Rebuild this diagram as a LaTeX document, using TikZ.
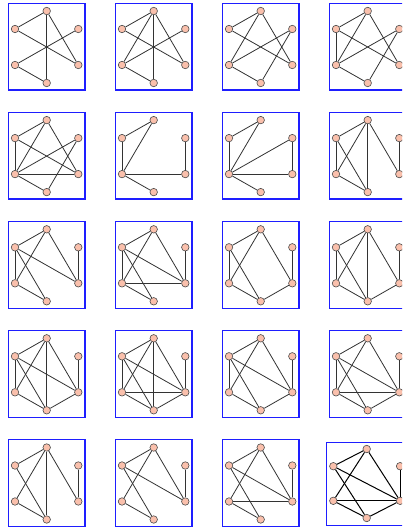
\documentclass[tikz,border=0pt]{standalone}
\usepackage{xcolor}
\usepackage{tikz}

% one small graph: name, left, top, edge list
\newcommand{\hexgraph}[4]{%
  \draw[frame] (#2,#3) rectangle ({#2+76.7},{#3+86.6});
  \node[vtx] (#1t)  at ({#2+38.4},{#3+7.7}) {};
  \node[vtx] (#1ul) at ({#2+6.7},{#3+25.7}) {};
  \node[vtx] (#1ur) at ({#2+70.0},{#3+25.7}) {};
  \node[vtx] (#1ll) at ({#2+6.7},{#3+61.7}) {};
  \node[vtx] (#1lr) at ({#2+70.0},{#3+61.7}) {};
  \node[vtx] (#1b)  at ({#2+38.4},{#3+79.7}) {};
  \foreach \u/\v in {#4} \draw[edge] (#1\u) -- (#1\v);
}

\begin{document}
\begin{tikzpicture}[x=1pt,y=-1pt,
  vtx/.style={circle,draw=black!70,line width=0.6pt,fill=cvtx,inner sep=0pt,minimum size=7.5pt},
  edge/.style={black!80,line width=0.8pt},
  frame/.style={draw=cframe,line width=1.3pt}]
\definecolor{cvtx}{RGB}{250,192,172}
\definecolor{cframe}{RGB}{30,30,255}
\useasboundingbox (0,0) rectangle (402,529);
\clip (0,0) rectangle (402,529);
% row 1
\hexgraph{ga}{8.3}{3.3}{t/ul,t/b,t/lr,ul/lr,ur/ll,ll/b}
\hexgraph{gb}{115.3}{3.3}{t/ul,t/ll,t/b,t/lr,ul/lr,ur/ll,ll/b}
\hexgraph{gc}{222.3}{3.3}{t/ul,t/ll,t/lr,ul/lr,ur/ll,ur/b,ll/b}
\hexgraph{gd}{329.3}{3.3}{t/ul,t/ll,t/lr,ul/ll,ul/lr,ur/ll,ur/b,ll/b}
% row 2
\hexgraph{ge}{8.3}{112.4}{t/ul,t/ll,t/lr,ul/ll,ul/lr,ur/ll,ur/b,ll/lr,ll/b}
\hexgraph{gf}{115.3}{112.4}{t/ul,t/ll,ul/ll,ll/lr,ur/lr,ll/b}
\hexgraph{gg}{222.3}{112.4}{t/ul,t/ll,ul/ll,ll/ur,ll/lr,ur/lr,ll/b}
\hexgraph{gh}{329.3}{112.4}{t/ul,t/ll,t/b,t/lr,ul/ll,ul/b,ur/lr,ll/b}
% row 3
\hexgraph{gi}{8.3}{221.6}{t/ul,t/ll,t/lr,ul/ll,ul/b,ul/lr,ur/lr,ll/b}
\hexgraph{gj}{115.3}{221.6}{t/ul,t/ll,t/lr,ul/ll,ul/b,ul/lr,ur/lr,ll/lr,ll/b}
\hexgraph{gk}{222.3}{221.6}{t/ul,t/ll,t/lr,ul/ll,ul/b,ur/lr,ll/b,b/lr}
\hexgraph{gl}{329.3}{221.6}{t/ul,t/ll,t/b,t/lr,ul/ll,ul/b,ur/lr,ll/b,b/lr}
% row 4
\hexgraph{gm}{8.3}{330.6}{t/ul,t/ll,t/b,t/lr,ul/ll,ul/b,ul/lr,ur/lr,ll/b,b/lr}
\hexgraph{gn}{115.3}{330.6}{t/ul,t/ll,t/b,t/lr,ul/ll,ul/b,ul/lr,ll/lr,ur/lr,ll/b,b/lr}
\hexgraph{go}{222.3}{330.6}{t/ul,t/ll,t/lr,ul/ll,ul/b,ul/lr,ur/lr,ll/b,b/lr}
\hexgraph{gp}{329.3}{330.6}{t/ul,t/ll,t/lr,ul/ll,ul/b,ul/lr,ll/lr,ur/lr,ll/b,b/lr}
% row 5
\hexgraph{gq}{8.3}{439.8}{t/ul,t/ll,t/b,t/lr,ul/b,ur/lr,ll/b}
\hexgraph{gr}{115.3}{439.8}{t/ul,t/ll,t/lr,ul/b,ul/lr,ur/lr,ll/b}
\hexgraph{gs}{222.3}{439.8}{t/ul,t/ll,t/lr,ul/b,ul/lr,ur/lr,ll/lr,ll/b}
% last one, a bit wider and drawn heavier
\draw[frame] (326.7,442.3) rectangle (406.7,525.7);
\node[vtx] (gtt)  at (366.7,449.0) {};
\node[vtx] (gtul) at (333.3,466.2) {};
\node[vtx] (gtur) at (400.1,466.2) {};
\node[vtx] (gtll) at (333.3,500.8) {};
\node[vtx] (gtlr) at (400.1,500.8) {};
\node[vtx] (gtb)  at (366.7,518.0) {};
\foreach \u/\v in {t/ul,t/ll,t/lr,ul/b,ul/lr,ll/lr,ur/lr,ll/b,b/lr}
  \draw[edge,line width=1pt,black] (gt\u) -- (gt\v);
\end{tikzpicture}
\end{document}
